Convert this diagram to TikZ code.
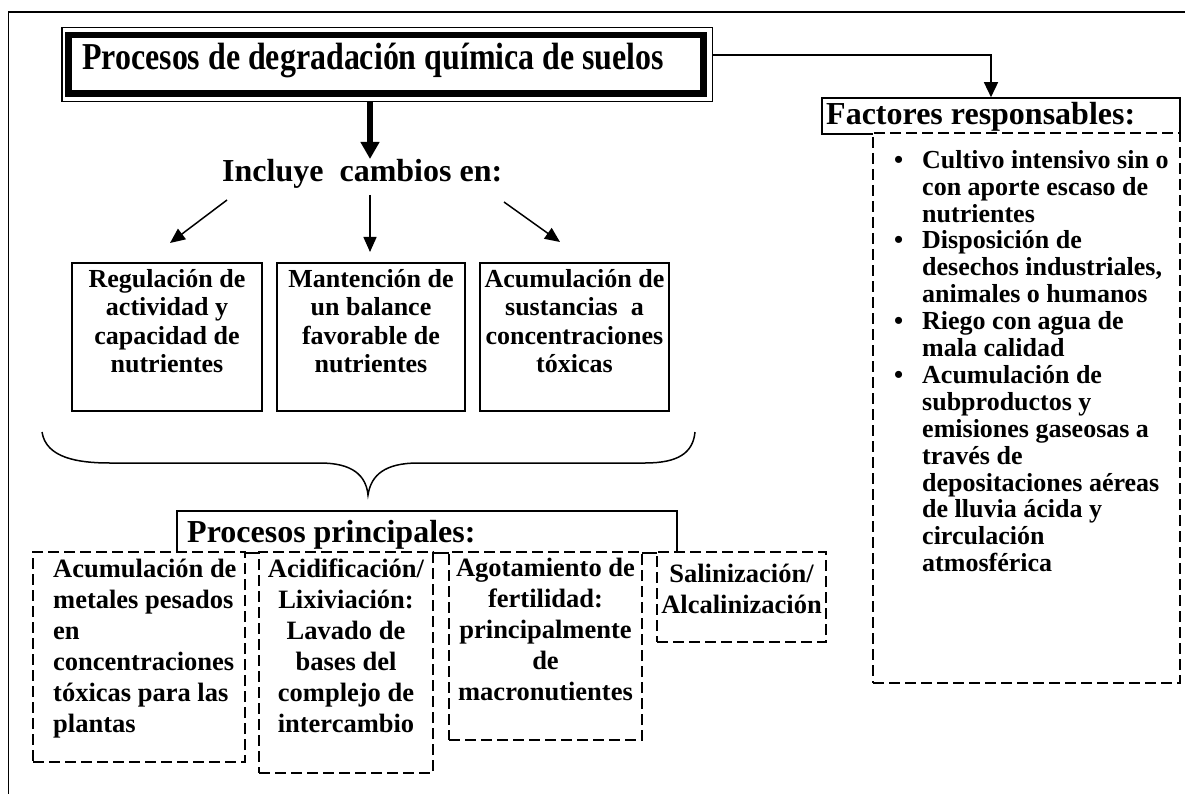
\documentclass[tikz,border=0pt]{standalone}
\usepackage{fontspec}
\setmainfont{Liberation Serif}
\newfontfamily\titlefont{Liberation Serif}[FakeStretch=0.84]
\usetikzlibrary{arrows.meta}
\newcommand\tp{\rule{0pt}{20pt}}
\newcommand\bul{\llap{\makebox[28pt][l]{•}}}
\tikzset{
  frameline/.style={line width=1.5pt},
  sbox/.style={draw, line width=1.6pt, inner sep=0pt},
  dbox/.style={draw, fill=white, line width=1.6pt, dash pattern=on 11pt off 5pt, inner sep=0pt},
  midtxt/.style={inner sep=0pt, align=center, font=\bfseries\fontsize{26}{28.5}\selectfont},
  lowtxt/.style={inner sep=0pt, font=\bfseries\fontsize{26.5}{31}\selectfont},
  listtxt/.style={inner sep=0pt, align=left, font=\bfseries\fontsize{26}{26.9}\selectfont},
  bigtxt/.style={inner sep=0pt, font=\bfseries\fontsize{32}{36}\selectfont},
  conn/.style={line width=1.5pt, -{Triangle[length=15pt,width=13pt]}},
  fatconn/.style={line width=6pt, -{Triangle[length=17pt,width=18pt]}},
  bracepath/.style={line width=1.5pt}
}
\begin{document}
\begin{tikzpicture}[x=1pt,y=-1pt]
\useasboundingbox (0,0) rectangle (1185,794);
% outer frame
\draw[frameline] (8.5,794) -- (8.5,12) -- (1185,12);

% title
\node[sbox, line width=1.5pt, minimum width=650.5pt, minimum height=74pt] (titleouter) at (387.25,64.5) {};
\node[sbox, line width=6.5pt, minimum width=635pt, minimum height=58.5pt] (titlebox) at (386,64.25) {};
\node[inner sep=0pt, anchor=base west, font=\titlefont\bfseries\fontsize{38}{40}\selectfont] (title) at (82,70) {Procesos de degradación química de suelos};

% thick arrow
\coordinate (tipT) at (370,159);
\draw[fatconn] (titleouter.south -| tipT) -- (tipT);

\node[bigtxt, anchor=base west] (incl) at (222,182) {Incluye~ cambios en:};

% three arrows
\coordinate (a1s) at (227,200); \coordinate (a1e) at (170,243);
\coordinate (a2s) at (370,195); \coordinate (a2e) at (370,252);
\coordinate (a3s) at (504,202); \coordinate (a3e) at (560,242);
\draw[conn] (a1s) -- (a1e);
\draw[conn] (a2s) -- (a2e);
\draw[conn] (a3s) -- (a3e);

% middle boxes
\node[sbox, minimum width=190pt, minimum height=148pt] (b1) at (167,337) {};
\node[sbox, minimum width=188pt, minimum height=148pt] (b2) at (371,337) {};
\node[sbox, minimum width=189pt, minimum height=148pt] (b3) at (574.5,337) {};
\node[midtxt, anchor=north] (t1) at (167,267) {\tp Regulación de\\actividad y\\capacidad de\\nutrientes};
\node[midtxt, anchor=north] (t2) at (371,267) {\tp Mantención de\\un balance\\favorable de\\nutrientes};
\node[midtxt, anchor=north] (t3) at (574.5,267) {\tp Acumulación de\\sustancias~ a\\concentraciones\\tóxicas};

% brace
\draw[bracepath] (42,432) .. controls (46,458) and (78,463) .. (110,463)
  -- (320,463) .. controls (352,463) and (366,475) .. (368,495)
  .. controls (371,475) and (385,463) .. (418,463)
  -- (645,463) .. controls (678,463) and (693,453) .. (695,432);

% procesos principales
\node[sbox, minimum width=500pt, minimum height=42pt] (pp) at (427,532) {};
\node[bigtxt, anchor=base west] (pptxt) at (187,542) {Procesos principales:};

\node[dbox, minimum width=212pt, minimum height=210pt] (bA) at (139,657) {};
\node[dbox, minimum width=174pt, minimum height=221pt] (bB) at (346,662.5) {};
\node[dbox, minimum width=193pt, minimum height=188pt] (bC) at (545.5,646) {};
\node[dbox, minimum width=169pt, minimum height=90pt] (bD) at (741.5,597) {};

\node[lowtxt, align=left, anchor=north west] (tA) at (53,557) {\tp Acumulación de\\metales pesados\\en\\concentraciones\\tóxicas para las\\plantas};
\node[lowtxt, align=center, anchor=north] (tB) at (346,557) {\tp Acidificación/\\Lixiviación:\\Lavado de\\bases del\\complejo de\\intercambio};
\node[lowtxt, align=center, anchor=north] (tC) at (545.5,556) {\tp Agotamiento de\\fertilidad:\\principalmente\\de\\macronutientes};
\node[lowtxt, align=center, anchor=north] (tD) at (741.5,562) {\tp Salinización/\\Alcalinización};

% factores
\node[sbox, minimum width=358pt, minimum height=36pt] (fact) at (1001,116) {};
\node[bigtxt, anchor=base west] (facttxt) at (826,125) {Factores responsables:};
\node[dbox, minimum width=307pt, minimum height=550pt] (fbox) at (1026.5,408) {};
\node[listtxt, anchor=north west] (list) at (922,148) {\tp\bul Cultivo intensivo sin o\\con aporte escaso de\\nutrientes\\
\bul Disposición de\\desechos industriales,\\animales o humanos\\
\bul Riego con agua de\\mala calidad\\
\bul Acumulación de\\subproductos y\\emisiones gaseosas a\\través de\\depositaciones aéreas\\de lluvia ácida y\\circulación\\atmosférica};

% connector title -> factores
\draw[line width=1.5pt, -{Triangle[length=15pt,width=14pt]}] ([yshift=9.5pt]titleouter.east) -| ([xshift=-10pt]fact.north);
\end{tikzpicture}
\end{document}
